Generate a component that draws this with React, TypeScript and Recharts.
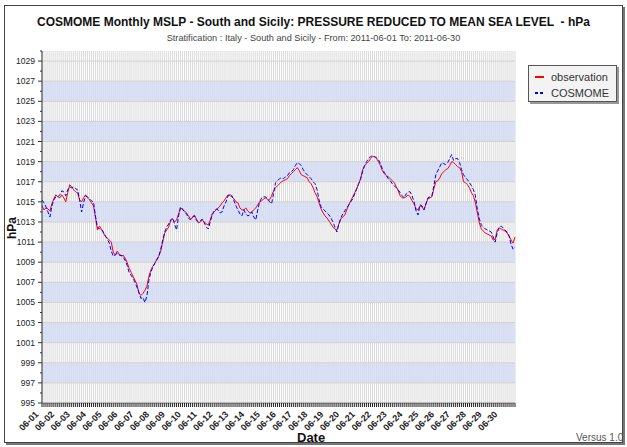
import React from "react";
import {
  LineChart,
  Line,
  XAxis,
  YAxis,
  CartesianGrid,
  ReferenceArea,
  ReferenceLine,
  Legend
} from "recharts";

const FONT = '"Liberation Sans", Arial, sans-serif';

const days = [
  "06-01", "06-02", "06-03", "06-04", "06-05", "06-06", "06-07", "06-08", "06-09", "06-10",
  "06-11", "06-12", "06-13", "06-14", "06-15", "06-16", "06-17", "06-18", "06-19", "06-20",
  "06-21", "06-22", "06-23", "06-24", "06-25", "06-26", "06-27", "06-28", "06-29", "06-30"
];
const hours = ["00", "03", "06", "09", "12", "15", "18", "21"];

// hPa, one row per day, 3-hourly
const observation = [
  [1014.6, 1014.2, 1014.4, 1014.3, 1014.1, 1014.8, 1015.3, 1015.7],
  [1015.5, 1015.4, 1015.7, 1015.4, 1015.0, 1015.9, 1016.7, 1016.5],
  [1016.2, 1016.0, 1015.9, 1015.2, 1015.0, 1015.4, 1015.7, 1015.4],
  [1015.2, 1014.9, 1014.6, 1013.5, 1012.2, 1012.6, 1012.3, 1011.9],
  [1011.6, 1011.4, 1011.2, 1011.0, 1010.0, 1009.7, 1010.1, 1009.8],
  [1009.6, 1009.7, 1009.4, 1009.0, 1008.4, 1008.0, 1007.6, 1007.2],
  [1006.8, 1005.9, 1005.7, 1005.9, 1006.2, 1006.6, 1007.6, 1008.2],
  [1008.6, 1008.9, 1009.3, 1009.6, 1010.1, 1011.0, 1011.9, 1012.2],
  [1012.5, 1013.1, 1013.3, 1013.0, 1013.2, 1013.8, 1014.4, 1014.2],
  [1014.1, 1013.9, 1013.6, 1013.3, 1013.4, 1013.7, 1013.3, 1012.9],
  [1013.0, 1013.2, 1013.0, 1012.8, 1012.7, 1013.2, 1013.8, 1014.0],
  [1014.2, 1014.4, 1014.6, 1014.9, 1015.1, 1015.4, 1015.7, 1015.6],
  [1015.5, 1015.3, 1015.0, 1014.9, 1014.4, 1014.2, 1014.2, 1014.4],
  [1014.1, 1013.9, 1014.0, 1014.2, 1014.4, 1014.7, 1015.0, 1015.1],
  [1015.3, 1015.4, 1015.2, 1015.2, 1015.6, 1016.1, 1016.4, 1016.6],
  [1016.8, 1017.0, 1017.1, 1017.2, 1017.3, 1017.6, 1017.8, 1018.0],
  [1018.2, 1018.4, 1018.1, 1017.7, 1017.6, 1017.5, 1017.4, 1017.0],
  [1016.8, 1016.4, 1015.9, 1015.5, 1014.9, 1014.3, 1013.9, 1013.6],
  [1013.4, 1013.1, 1012.8, 1012.5, 1012.3, 1012.2, 1012.8, 1013.3],
  [1013.5, 1013.7, 1014.2, 1014.7, 1015.1, 1015.5, 1015.9, 1016.3],
  [1016.8, 1017.3, 1018.2, 1018.6, 1018.8, 1019.0, 1019.3, 1019.5],
  [1019.5, 1019.3, 1019.0, 1018.6, 1018.1, 1017.8, 1017.6, 1017.5],
  [1017.3, 1017.1, 1016.9, 1016.5, 1016.1, 1015.6, 1015.4, 1015.4],
  [1015.5, 1015.7, 1015.5, 1015.1, 1014.8, 1014.3, 1014.2, 1014.6],
  [1014.5, 1014.2, 1014.8, 1015.3, 1015.4, 1015.5, 1016.3, 1017.0],
  [1017.1, 1017.4, 1017.8, 1018.0, 1018.2, 1018.3, 1018.6, 1019.0],
  [1018.9, 1018.7, 1018.5, 1018.4, 1018.0, 1017.0, 1016.9, 1016.7],
  [1016.4, 1015.9, 1015.6, 1014.9, 1013.9, 1012.9, 1012.3, 1012.1],
  [1011.9, 1011.8, 1011.7, 1011.6, 1011.2, 1011.3, 1012.2, 1012.4],
  [1012.3, 1012.2, 1012.1, 1011.9, 1011.6, 1011.2, 1010.9, 1011.5]
];

const cosmome = [
  [1015.2, 1014.9, 1014.5, 1014.0, 1013.5, 1014.6, 1015.2, 1015.5],
  [1015.5, 1015.7, 1016.1, 1016.0, 1015.6, 1016.2, 1016.5, 1016.4],
  [1016.5, 1016.3, 1016.2, 1015.2, 1014.0, 1014.9, 1015.6, 1015.5],
  [1015.3, 1015.1, 1015.0, 1013.6, 1012.5, 1012.3, 1012.3, 1012.0],
  [1011.6, 1011.3, 1010.9, 1010.1, 1009.6, 1009.7, 1009.9, 1009.7],
  [1009.7, 1009.5, 1009.2, 1008.7, 1008.0, 1007.7, 1007.4, 1007.0],
  [1006.5, 1006.0, 1005.4, 1005.5, 1005.0, 1005.6, 1007.2, 1008.0],
  [1008.5, 1008.9, 1009.2, 1009.6, 1010.3, 1011.2, 1012.0, 1012.5],
  [1012.8, 1013.2, 1013.4, 1012.8, 1012.2, 1013.6, 1014.5, 1014.3],
  [1014.0, 1013.8, 1013.4, 1013.2, 1013.5, 1013.6, 1013.2, 1013.0],
  [1013.1, 1013.3, 1012.9, 1012.5, 1012.3, 1013.0, 1013.7, 1014.1],
  [1014.3, 1014.2, 1013.9, 1014.0, 1014.6, 1015.0, 1015.6, 1015.8],
  [1015.6, 1015.1, 1014.6, 1014.2, 1013.8, 1013.6, 1014.2, 1013.8],
  [1013.6, 1013.7, 1014.0, 1013.5, 1013.2, 1014.2, 1015.0, 1015.4],
  [1015.5, 1015.5, 1015.3, 1015.0, 1014.8, 1015.8, 1016.9, 1017.1],
  [1017.3, 1017.4, 1017.3, 1017.5, 1017.6, 1017.9, 1018.0, 1018.2],
  [1018.6, 1018.9, 1018.8, 1018.6, 1018.2, 1017.9, 1017.7, 1017.5],
  [1017.3, 1017.0, 1016.8, 1016.2, 1015.2, 1014.5, 1014.3, 1014.1],
  [1013.9, 1013.7, 1013.4, 1013.0, 1012.5, 1012.0, 1012.8, 1013.4],
  [1013.8, 1014.1, 1014.4, 1014.7, 1015.0, 1015.3, 1015.8, 1016.3],
  [1016.8, 1017.3, 1018.0, 1018.6, 1019.0, 1019.3, 1019.5, 1019.6],
  [1019.5, 1019.4, 1019.2, 1018.8, 1018.3, 1017.9, 1017.6, 1017.3],
  [1017.1, 1016.8, 1016.6, 1016.4, 1016.2, 1015.9, 1015.6, 1015.4],
  [1015.8, 1016.0, 1016.0, 1015.6, 1015.0, 1014.1, 1013.7, 1014.7],
  [1014.6, 1014.2, 1014.8, 1015.4, 1015.5, 1015.6, 1016.6, 1017.7],
  [1018.1, 1018.5, 1018.9, 1018.8, 1018.7, 1018.9, 1019.3, 1019.7],
  [1019.1, 1019.3, 1019.3, 1018.9, 1018.2, 1017.7, 1017.4, 1017.2],
  [1016.9, 1016.6, 1016.2, 1015.6, 1014.2, 1013.3, 1012.7, 1012.5],
  [1012.3, 1012.2, 1012.1, 1012.0, 1011.5, 1011.0, 1011.9, 1012.5],
  [1012.6, 1012.4, 1012.2, 1012.0, 1011.6, 1010.8, 1010.3, 1010.5]
];

const yMajorTicks = [
  995, 997, 999, 1001, 1003, 1005, 1007, 1009, 1011, 1013, 1015, 1017, 1019, 1021, 1023,
  1025, 1027, 1029
];
const yMinorTicks = [
  996, 998, 1000, 1002, 1004, 1006, 1008, 1010, 1012, 1014, 1016, 1018, 1020, 1022, 1024,
  1026, 1028, 1030
];
const blueBands = [
  [997, 999], [1001, 1003], [1005, 1007], [1009, 1011], [1013, 1015], [1017, 1019],
  [1021, 1023], [1025, 1027]
];
const legendOrder = ["observation", "cosmome"];

const chartData = days.flatMap((d, di) =>
  hours.map((h, hi) => ({
    time: `${d} ${h}`,
    observation: observation[di][hi],
    cosmome: cosmome[di][hi]
  }))
);

const yTicks = [...yMajorTicks, ...yMinorTicks].sort((a, b) => a - b);

function YTick(props: any) {
  const { x, y, payload } = props;
  const axisX = x + 6;
  const major = yMajorTicks.includes(payload.value);
  return (
    <g>
      <line x1={axisX - (major ? 4 : 2)} x2={axisX} y1={y} y2={y} stroke="#333" />
      {major && (
        <text x={x - 1} y={y + 3} textAnchor="end" fontSize={8.5} fill="#222" fontFamily={FONT}>
          {payload.value}
        </text>
      )}
    </g>
  );
}

function XTick(props: any) {
  const { x, y, payload } = props;
  const [day, hour] = String(payload.value).split(" ");
  if (hour !== "00") return <g />;
  const tx = x - 3;
  const ty = y + 6;
  return (
    <text
      x={tx}
      y={ty}
      transform={`rotate(-45 ${tx} ${ty})`}
      textAnchor="end"
      fontSize={9}
      fontWeight="bold"
      fill="#222"
      fontFamily={FONT}
    >
      {day}
    </text>
  );
}

const legendDash: Record<string, string | undefined> = {
  observation: undefined,
  cosmome: "3 2"
};

function LegendBox(props: any) {
  const items = [...(props.payload || [])].sort(
    (a: any, b: any) => legendOrder.indexOf(a.dataKey) - legendOrder.indexOf(b.dataKey)
  );
  return (
    <div
      style={{
        width: 89,
        height: 37,
        boxSizing: "border-box",
        border: "1px solid #555",
        background: "#f3f3f3",
        boxShadow: "2px 2px 0 #999",
        padding: "3px 0 0 6px",
        fontFamily: FONT,
        fontSize: 11,
        color: "#333"
      }}
    >
      {items.map((entry: any) => (
        <div key={entry.dataKey} style={{ display: "flex", alignItems: "center", height: 16 }}>
          <svg width={10} height={4} style={{ marginRight: 6 }}>
            <line
              x1={0}
              x2={9}
              y1={2}
              y2={2}
              stroke={entry.color}
              strokeWidth={2}
              strokeDasharray={legendDash[entry.dataKey]}
            />
          </svg>
          <span>{entry.value}</span>
        </div>
      ))}
    </div>
  );
}

export default function App() {
  return (
    <div
      style={{
        position: "absolute",
        left: 0,
        top: 0,
        width: 627,
        height: 447,
        background: "#fff",
        fontFamily: FONT,
        overflow: "hidden"
      }}
    >
      <div
        style={{
          position: "absolute",
          left: 4,
          top: 5,
          width: 617,
          height: 436,
          border: "1px solid #444",
          boxShadow: "2px 2px 0 #777"
        }}
      />
      <div
        style={{
          position: "absolute",
          left: 0,
          top: 15,
          width: 627,
          textAlign: "center",
          fontSize: 12,
          fontWeight: "bold",
          color: "#111",
          whiteSpace: "pre"
        }}
      >
        {"COSMOME Monthly MSLP - South and Sicily: PRESSURE REDUCED TO MEAN SEA LEVEL  - hPa"}
      </div>
      <div
        style={{
          position: "absolute",
          left: 0,
          top: 33,
          width: 627,
          textAlign: "center",
          fontSize: 9.2,
          color: "#444"
        }}
      >
        Stratification : Italy - South and Sicily - From: 2011-06-01 To: 2011-06-30
      </div>
      <div style={{ position: "absolute", left: 0, top: 0 }}>
        <LineChart
          width={627}
          height={447}
          data={chartData}
          margin={{ top: 51, right: 112, bottom: 14, left: 0 }}
        >
          <CartesianGrid horizontal={false} vertical stroke="#dadada" fill="#fff" />
          {blueBands.map(([a, b]) => (
            <ReferenceArea
              key={a}
              y1={a}
              y2={b}
              fill="#d3dbf4"
              fillOpacity={0.75}
              stroke="none"
            />
          ))}
          {yMajorTicks.map((v) => (
            <ReferenceLine key={v} y={v} stroke="#d2d2d2" strokeWidth={1} />
          ))}
          <XAxis
            dataKey="time"
            interval={0}
            height={30}
            tickSize={4}
            tickMargin={2}
            tickLine={{ stroke: "#222" }}
            axisLine={{ stroke: "#999" }}
            tick={<XTick />}
          />
          <YAxis
            width={42}
            domain={[995, 1030]}
            ticks={yTicks}
            interval={0}
            allowDataOverflow
            tickSize={4}
            tickMargin={2}
            tickLine={false}
            axisLine={{ stroke: "#333" }}
            tick={<YTick />}
          />
          <Legend
            layout="vertical"
            align="center"
            verticalAlign="middle"
            content={<LegendBox />}
            wrapperStyle={{ left: 528, top: 65, width: 89, height: 37 }}
          />
          <Line
            type="linear"
            dataKey="observation"
            name="observation"
            stroke="#ff0000"
            strokeWidth={1}
            dot={false}
            isAnimationActive={false}
          />
          <Line
            type="linear"
            dataKey="cosmome"
            name="COSMOME"
            stroke="#0000ff"
            strokeWidth={1}
            strokeDasharray="4 2"
            dot={false}
            isAnimationActive={false}
          />
        </LineChart>
      </div>
      <div
        style={{
          position: "absolute",
          left: 12,
          top: 228,
          transform: "translate(-50%, -50%) rotate(-90deg)",
          fontSize: 12,
          fontWeight: "bold",
          color: "#111"
        }}
      >
        hPa
      </div>
      <div
        style={{
          position: "absolute",
          left: 297,
          top: 430,
          fontSize: 13,
          fontWeight: "bold",
          color: "#111"
        }}
      >
        Date
      </div>
      <div
        style={{
          position: "absolute",
          left: 576,
          top: 432,
          fontSize: 10,
          color: "#555"
        }}
      >
        Versus 1.0
      </div>
    </div>
  );
}
